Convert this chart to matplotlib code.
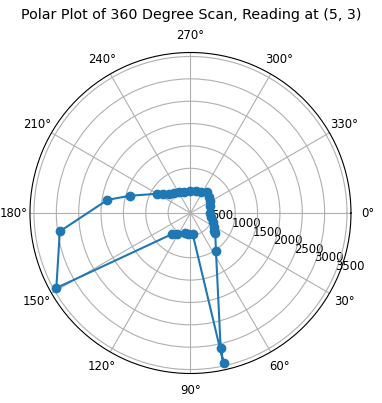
import numpy as np
import matplotlib
matplotlib.use("Agg")
import matplotlib.pyplot as plt

# Scan angles (degrees) and distance readings
angles_deg = [0.9, 11, 21.4, 31.3, 36.3, 39.2, 56.4, 77.4, 77.6, 84, 97, 104,
              122.7, 131.4, 150.8, 172, 189, 195.8, 209.8, 214.9, 221.9, 230.6,
              241.1, 253.5, 269.5, 284, 296.6, 307.3, 317.8, 328.4, 340]
distances = [436, 472, 537, 607, 666, 714, 1030, 3093, 3439, 476, 463, 465,
             565, 632, 3437, 2951, 1879, 1414, 865, 738, 644, 576,
             524, 495, 497, 513, 531, 596, 549, 517, 461]
theta_ticks = list(range(0, 360, 30))
r_ticks = [500, 1000, 1500, 2000, 2500, 3000, 3500]
title = "Polar Plot of 360 Degree Scan, Reading at (5, 3)"

fig = plt.figure(figsize=(3.82, 4.03), dpi=100)
ax = fig.add_axes([0.0785, 0.0732, 0.8403, 0.7965], projection="polar")
ax.set_theta_direction(-1)
ax.set_theta_zero_location("E")
ax.plot(np.deg2rad(angles_deg), distances, "o-", color="#1f77b4")
ax.set_thetagrids(theta_ticks)
ax.set_rticks(r_ticks)
ax.tick_params(labelsize=8.4)
ax.xaxis.set_tick_params(pad=1.5)
fig.text(0.5, 1 - 15 / 403, title, fontsize=10.3, ha="center", va="center")
fig.savefig("out.png", dpi=100)
